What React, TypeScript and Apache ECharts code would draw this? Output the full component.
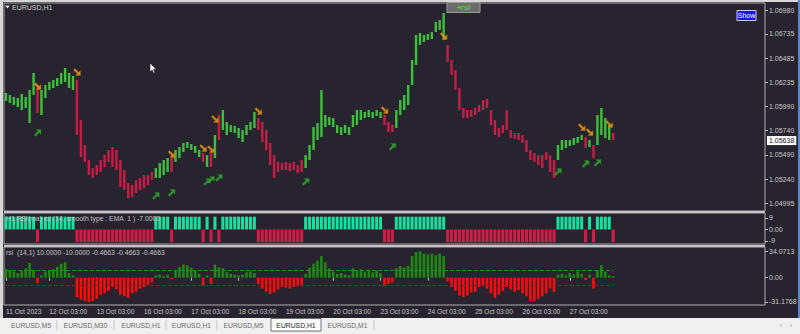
import React, { useEffect, useRef } from 'react';
import * as echarts from 'echarts';

// ---------- data ----------
const dayLabels = ['11 Oct 2023', '12 Oct 03:00', '13 Oct 03:00', '16 Oct 03:00', '17 Oct 03:00', '18 Oct 03:00', '19 Oct 03:00', '20 Oct 03:00', '23 Oct 03:00', '24 Oct 03:00', '25 Oct 03:00', '26 Oct 03:00', '27 Oct 03:00'];
const dayLabelIndex = [0, 11, 23, 35, 47, 59, 71, 83, 95, 107, 119, 131, 143];
const slotCount = 193;

const highs = [
  1.06127, 1.06107, 1.06086, 1.06076, 1.06117, 1.06086, 1.06158, 1.06333, 1.06209, 1.06158,
  1.06209, 1.06240, 1.06261, 1.06281, 1.06333, 1.06384, 1.06333, 1.06302, 1.06261, 1.05849,
  1.05592, 1.05438, 1.05356, 1.05387, 1.05438, 1.05489, 1.05541, 1.05572, 1.05541, 1.05438,
  1.05335, 1.05202, 1.05181, 1.05233, 1.05253, 1.05284, 1.05284, 1.05315, 1.05356, 1.05407,
  1.05438, 1.05459, 1.05489, 1.05541, 1.05572, 1.05613, 1.05623, 1.05603, 1.05582, 1.05541,
  1.05510, 1.05489, 1.05541, 1.05695, 1.05901, 1.05952, 1.05829, 1.05798, 1.05788, 1.05767,
  1.05747, 1.05798, 1.05829, 1.05932, 1.05870, 1.05829, 1.05747, 1.05613, 1.05489, 1.05418,
  1.05407, 1.05418, 1.05407, 1.05418, 1.05387, 1.05438, 1.05489, 1.05592, 1.05777, 1.05819,
  1.06158, 1.05901, 1.05880, 1.05870, 1.05798, 1.05777, 1.05798, 1.05777, 1.05901, 1.05952,
  1.05952, 1.05932, 1.05952, 1.05932, 1.05952, 1.05932, 1.05901, 1.05829, 1.05798, 1.05952,
  1.06055, 1.06107, 1.06209, 1.06466, 1.06723, 1.06744, 1.06723, 1.06733, 1.06754, 1.06857,
  1.06877, 1.06949, 1.06620, 1.06466, 1.06363, 1.06178, 1.05973, 1.05952, 1.05952, 1.05973,
  1.06004, 1.06055, 1.06065, 1.05952, 1.05849, 1.05767, 1.05798, 1.05952, 1.05747, 1.05716,
  1.05716, 1.05695, 1.05644, 1.05541, 1.05510, 1.05489, 1.05489, 1.05520, 1.05489, 1.05438,
  1.05592, 1.05644, 1.05644, 1.05644, 1.05664, 1.05675, 1.05695, 1.05675, 1.05644, 1.05592,
  1.05901, 1.05973, 1.05870, 1.05798, 1.05716,
];

const lows = [
  1.06045, 1.06024, 1.06004, 1.05983, 1.05952, 1.05973, 1.05819, 1.06107, 1.05921, 1.05901,
  1.06076, 1.06158, 1.06178, 1.06199, 1.06220, 1.06240, 1.06178, 1.06158, 1.05695, 1.05469,
  1.05418, 1.05284, 1.05253, 1.05284, 1.05315, 1.05366, 1.05418, 1.05366, 1.05335, 1.05161,
  1.05130, 1.05048, 1.05058, 1.05099, 1.05130, 1.05150, 1.05181, 1.05233, 1.05253, 1.05253,
  1.05284, 1.05315, 1.05315, 1.05418, 1.05459, 1.05520, 1.05562, 1.05541, 1.05510, 1.05469,
  1.05418, 1.05366, 1.05366, 1.05459, 1.05644, 1.05747, 1.05695, 1.05726, 1.05716, 1.05664,
  1.05623, 1.05695, 1.05747, 1.05767, 1.05747, 1.05623, 1.05541, 1.05387, 1.05253, 1.05315,
  1.05335, 1.05335, 1.05325, 1.05335, 1.05304, 1.05315, 1.05356, 1.05438, 1.05541, 1.05644,
  1.05675, 1.05777, 1.05798, 1.05777, 1.05716, 1.05695, 1.05716, 1.05695, 1.05777, 1.05798,
  1.05849, 1.05870, 1.05880, 1.05870, 1.05891, 1.05870, 1.05798, 1.05726, 1.05726, 1.05767,
  1.05901, 1.05952, 1.06004, 1.06209, 1.06415, 1.06620, 1.06651, 1.06672, 1.06682, 1.06754,
  1.06775, 1.06672, 1.06446, 1.06312, 1.06158, 1.05952, 1.05870, 1.05870, 1.05880, 1.05901,
  1.05932, 1.05952, 1.05973, 1.05798, 1.05695, 1.05675, 1.05716, 1.05747, 1.05664, 1.05654,
  1.05644, 1.05613, 1.05520, 1.05438, 1.05418, 1.05387, 1.05356, 1.05438, 1.05315, 1.05253,
  1.05438, 1.05541, 1.05562, 1.05582, 1.05592, 1.05613, 1.05644, 1.05562, 1.05572, 1.05459,
  1.05592, 1.05695, 1.05664, 1.05644, 1.05644,
];

// 1 = up (green), -1 = down (red)
const trend = [
  1, 1, 1, 1, 1, 1, 1, 1, -1, 1,
  1, 1, 1, 1, 1, 1, 1, 1, -1, -1,
  -1, -1, -1, -1, -1, -1, -1, -1, -1, -1,
  -1, -1, -1, -1, -1, -1, -1, -1, 1, 1,
  1, 1, -1, 1, 1, 1, 1, 1, 1, 1,
  -1, 1, -1, 1, -1, 1, 1, 1, 1, 1,
  1, 1, 1, 1, -1, -1, -1, -1, -1, -1,
  -1, -1, -1, -1, -1, -1, 1, 1, 1, 1,
  1, 1, 1, 1, 1, 1, 1, 1, 1, 1,
  1, 1, 1, 1, 1, 1, -1, -1, -1, 1,
  1, 1, 1, 1, 1, 1, 1, 1, 1, 1,
  1, 1, -1, -1, -1, -1, -1, -1, -1, -1,
  -1, -1, -1, -1, -1, -1, -1, -1, -1, -1,
  -1, -1, -1, -1, -1, -1, -1, -1, -1, -1,
  1, 1, 1, 1, 1, 1, 1, -1, 1, -1,
  1, 1, 1, 1, -1,
];

const rsiHist = [
  11, 10, 8, 6, 9, 12, 19, 10, -7, 3,
  8, 10, 11, 14, 18, 20, 6, 3, -25, -28,
  -30, -31.2, -30, -27, -22, -20, -17, -12, -15, -22,
  -24, -26, -20, -18, -14, -12, -9, -6, 3, 4,
  2, 4, -2, 10, 14, 17, 16, 13, 9, 5,
  -10, 3, -8, 17, 13, 12, 7, 5, 4, 3,
  4, 7, 8, 6, -8, -14, -18, -21, -19, -15,
  -12, -13, -14, -12, -11, -9, 5, 13, 18, 22,
  28, 20, 12, 8, 5, 6, 4, 3, 12, 9,
  11, 8, 10, 7, 9, 6, -11, -8, -6, 12,
  15, 13, 15, 28, 33, 34.07, 31, 30, 31, 29,
  31, 28, -5, -12, -17, -23, -25, -23, -19, -18,
  -12, -10, -14, -20, -26, -22, -17, -12, -15, -18,
  -16, -20, -24, -30, -30, -27, -24, -20, -14, -18,
  4, 5, 3, 6, 4, 8, 5, -3, 4, -14,
  10, 16, 8, 3, 2,
];

const sellSignals = [
  [8, 1.06199], [18, 1.06343], [42, 1.05500], [50, 1.05562], [52, 1.05551], [53, 1.05860],
  [64, 1.05942], [96, 1.05952], [111, 1.06713], [146, 1.05777], [148, 1.05726], [153, 1.05808],
];
const buySignals = [
  [8, 1.05716], [38, 1.05068], [42, 1.05099], [51, 1.05212], [52, 1.05233], [54, 1.05253],
  [76, 1.05212], [98, 1.05572], [140, 1.05315], [147, 1.05397], [150, 1.05407],
];

const priceTicks = [1.04995, 1.0524, 1.0549, 1.0574, 1.0599, 1.06235, 1.06485, 1.06735, 1.0698];
const lastPrice = 1.05638;
const stateTicks = [-9, 0, 9];
const stateLevel = 10;
const rsiTicks = [-31.1768, 0, 34.0713];
const rsiLevels = [10, -10];

const tabs = ['EURUSD,M5', 'EURUSD,M30', 'EURUSD,H1', 'EURUSD,H1', 'EURUSD,M5', 'EURUSD,H1', 'EURUSD,M1'];
const activeTab = 5;

// ---------- styling ----------
const FONT = 'Liberation Sans, Arial, sans-serif';
const BG = '#28242f';
const TXT = '#c8c8c8';
const GREEN = '#3cc03c';
const RED = '#c81e46';
const MINT = '#14e2a0';
const CRIMSON = '#d01e48';
const HGREEN = '#1f8a12';
const HRED = '#ff0c0c';
const UP_ARROW = 'path://M10,0 L10,7 L7.5,4.5 L2,10 L0,8 L5.5,2.5 L3,0 Z';
const DOWN_ARROW = 'path://M10,10 L3,10 L5.5,7.5 L0,2 L2,0 L7.5,5.5 L10,3 Z';
const PRICE_MIN = 1.04914;
const PRICE_MAX = 1.07052;

function buildOption() {
  const slots = Array.from({ length: slotCount }, (_, i) => {
    const k = dayLabelIndex.indexOf(i);
    return k >= 0 ? dayLabels[k] : '';
  });
  const n = highs.length;
  const gridCommon = { left: 4, right: 35, show: true, borderColor: '#aeaeae', borderWidth: 1, outerBoundsMode: 'none', containLabel: false };
  const xHidden = (gi: number) => ({
    type: 'category', gridIndex: gi, data: slots, boundaryGap: true,
    axisLine: { show: false }, axisTick: { show: false }, axisLabel: { show: false }, splitLine: { show: false },
  });
  const yLabel = { color: TXT, fontSize: 7, fontFamily: FONT, margin: 4 };
  const tabCenters = [31, 85.5, 141, 191.5, 243.5, 296, 347.5];
  const tabSeps = [57, 114, 166, 217, 374];

  const graphics: any[] = [
    { type: 'rect', z: 50, shape: { x: 0, y: 0, width: 800, height: 2 }, style: { fill: '#d6d6d6' } },
    { type: 'rect', z: 50, shape: { x: 0, y: 0, width: 3, height: 318 }, style: { fill: '#d6d6d6' } },
    { type: 'rect', z: 50, shape: { x: 798, y: 0, width: 2, height: 318 }, style: { fill: '#5a86cc' } },
    { type: 'rect', z: 50, shape: { x: 4, y: 211, width: 761, height: 2 }, style: { fill: '#c4c4c4' } },
    { type: 'rect', z: 50, shape: { x: 4, y: 245, width: 761, height: 2 }, style: { fill: '#c4c4c4' } },
    { type: 'polygon', z: 50, shape: { points: [[5, 5.5], [10, 5.5], [7.5, 8.5]] }, style: { fill: '#e0e0e0' } },
    { type: 'text', z: 50, style: { x: 12, y: 7.5, text: 'EURUSD,H1', fill: '#d4d4d4', font: `7px ${FONT}`, textVerticalAlign: 'middle' } },
    { type: 'polygon', z: 60, shape: { points: [[150, 63], [150, 72], [152.2, 70], [153.6, 73.2], [155, 72.6], [153.6, 69.5], [156.5, 69.5]] }, style: { fill: '#ffffff', stroke: '#000000', lineWidth: 0.5 } },
    { type: 'rect', z: 50, shape: { x: 447, y: 2.5, width: 33, height: 10 }, style: { fill: '#6c6c6c', stroke: '#9a9a9a', lineWidth: 1 } },
    { type: 'text', z: 51, style: { x: 463.5, y: 7.8, text: '+rsi', fill: '#2ee02e', font: `bold 7.5px ${FONT}`, textAlign: 'center', textVerticalAlign: 'middle' } },
    { type: 'rect', z: 50, shape: { x: 737, y: 10.5, width: 19, height: 10 }, style: { fill: '#1414f0', stroke: '#c8c8e8', lineWidth: 1 } },
    { type: 'text', z: 51, style: { x: 746.5, y: 15.8, text: 'Show', fill: '#ffffff', font: `7px ${FONT}`, textAlign: 'center', textVerticalAlign: 'middle' } },
    { type: 'text', z: 51, style: { x: 6, y: 218.5, text: 'H1 RSI(ma) rsi (14, smooth type : EMA  1 ) -7.0000', fill: '#c4c4c4', font: `6.8px ${FONT}`, textVerticalAlign: 'middle' } },
    { type: 'text', z: 51, style: { x: 6, y: 252.5, text: 'rsi  (14,1) 10.0000 -10.0000 -0.4663 -0.4663 -0.4663', fill: '#c4c4c4', font: `6.8px ${FONT}`, textVerticalAlign: 'middle' } },
    { type: 'rect', z: 50, shape: { x: 0, y: 318, width: 800, height: 16 }, style: { fill: '#f0f0f0' } },
    { type: 'rect', z: 51, shape: { x: 271, y: 318.5, width: 50, height: 12.5 }, style: { fill: '#ffffff', stroke: '#6e6e6e', lineWidth: 1 } },
    { type: 'text', z: 52, style: { x: 781, y: 325, text: '‹', fill: '#a8a8a8', font: `8px ${FONT}`, textAlign: 'center', textVerticalAlign: 'middle' } },
    { type: 'text', z: 52, style: { x: 791, y: 325, text: '›', fill: '#a8a8a8', font: `8px ${FONT}`, textAlign: 'center', textVerticalAlign: 'middle' } },
  ];
  tabSeps.forEach((x) => graphics.push({ type: 'line', z: 51, shape: { x1: x, y1: 320, x2: x, y2: 330 }, style: { stroke: '#c4c4c4', lineWidth: 1 } }));
  tabs.forEach((t, i) => graphics.push({
    type: 'text', z: 52,
    style: { x: tabCenters[i], y: 325, text: t, fill: i === activeTab ? '#1a1a1a' : '#6a6a6a', font: `6.8px ${FONT}`, textAlign: 'center', textVerticalAlign: 'middle' },
  }));

  return {
    animation: false,
    backgroundColor: BG,
    textStyle: { fontFamily: FONT },
    grid: [
      { ...gridCommon, top: 3, height: 208 },
      { ...gridCommon, top: 213, height: 31 },
      { ...gridCommon, top: 247, height: 58 },
    ],
    xAxis: [
      xHidden(0),
      xHidden(1),
      {
        ...xHidden(2),
        axisTick: { show: true, interval: (_i: number, v: string) => v !== '', alignWithLabel: true, length: 3, lineStyle: { color: '#bdbdbd' } },
        axisLabel: { show: true, interval: (_i: number, v: string) => v !== '', align: 'left', color: TXT, fontSize: 6.6, fontFamily: FONT, margin: 3 },
      },
    ],
    yAxis: [
      {
        type: 'value', gridIndex: 0, position: 'right', offset: 0, min: PRICE_MIN, max: PRICE_MAX, splitLine: { show: false },
        axisLine: { show: false },
        axisTick: { show: true, customValues: priceTicks, length: 3, lineStyle: { color: '#bdbdbd' } },
        axisLabel: { ...yLabel, customValues: priceTicks, formatter: (v: number) => v.toFixed(5) },
      },
      {
        type: 'value', gridIndex: 1, position: 'right', min: -11.35, max: 12.9, splitLine: { show: false },
        axisLine: { show: false },
        axisTick: { show: true, customValues: stateTicks, length: 3, lineStyle: { color: '#bdbdbd' } },
        axisLabel: { ...yLabel, customValues: stateTicks, formatter: (v: number) => (v === 0 ? '0.00' : String(v)) },
      },
      {
        type: 'value', gridIndex: 2, position: 'right', min: -35.2, max: 39.6, splitLine: { show: false },
        axisLine: { show: false },
        axisTick: { show: true, customValues: rsiTicks, length: 3, lineStyle: { color: '#bdbdbd' } },
        axisLabel: { ...yLabel, customValues: rsiTicks, formatter: (v: number) => (v === 0 ? '0.00' : v.toFixed(4)) },
      },
      {
        type: 'value', gridIndex: 0, position: 'right', offset: 0, min: PRICE_MIN, max: PRICE_MAX, splitLine: { show: false },
        axisLine: { show: false }, axisTick: { show: false },
        axisLabel: {
          ...yLabel, margin: 2, customValues: [lastPrice], formatter: (v: number) => v.toFixed(5),
          backgroundColor: '#ffffff', color: '#111111', padding: [1, 2, 1, 2],
        },
      },
    ],
    series: [
      {
        type: 'bar', name: 'base', xAxisIndex: 0, yAxisIndex: 0, stack: 'hl', barWidth: 2.4, silent: true,
        itemStyle: { color: 'rgba(0,0,0,0)' },
        data: lows,
      },
      {
        type: 'bar', name: 'range', xAxisIndex: 0, yAxisIndex: 0, stack: 'hl', barWidth: 2.4, silent: true,
        data: highs.map((h, i) => ({ value: +(h - lows[i]).toFixed(5), itemStyle: { color: trend[i] > 0 ? GREEN : RED } })),
      },
      {
        type: 'scatter', xAxisIndex: 0, yAxisIndex: 0, symbol: DOWN_ARROW, symbolSize: [7, 7], silent: true,
        itemStyle: { color: '#f5a412', borderColor: '#b06a00', borderWidth: 0.5 }, data: sellSignals, z: 5,
      },
      {
        type: 'scatter', xAxisIndex: 0, yAxisIndex: 0, symbol: UP_ARROW, symbolSize: [7, 7], silent: true,
        itemStyle: { color: '#34b834', borderColor: '#1c6e1c', borderWidth: 0.5 }, data: buySignals, z: 5,
      },
      {
        type: 'bar', xAxisIndex: 1, yAxisIndex: 1, barWidth: 3, silent: true,
        data: trend.map((t) => ({ value: t * stateLevel, itemStyle: { color: t > 0 ? MINT : CRIMSON } })),
      },
      {
        type: 'bar', xAxisIndex: 2, yAxisIndex: 2, barWidth: 2.6, silent: true,
        data: rsiHist.map((v) => ({ value: v, itemStyle: { color: v >= 0 ? HGREEN : HRED } })),
        markLine: {
          silent: true, symbol: ['none', 'none'], label: { show: false },
          data: rsiLevels.map((lv) => [
            { coord: [0, lv], lineStyle: { color: lv > 0 ? '#1f8a1f' : '#8e1c1c', type: 'dashed', width: 1 } },
            { coord: [n - 1, lv] },
          ]),
        },
      },
    ],
    graphic: graphics,
  };
}

export default function App() {
  const ref = useRef<HTMLDivElement>(null);
  useEffect(() => {
    document.body.style.margin = '0';
    const chart = echarts.init(ref.current as HTMLDivElement, null, { renderer: 'svg' });
    chart.setOption(buildOption() as any);
    return () => chart.dispose();
  }, []);
  return <div ref={ref} style={{ width: 800, height: 334 }} />;
}
